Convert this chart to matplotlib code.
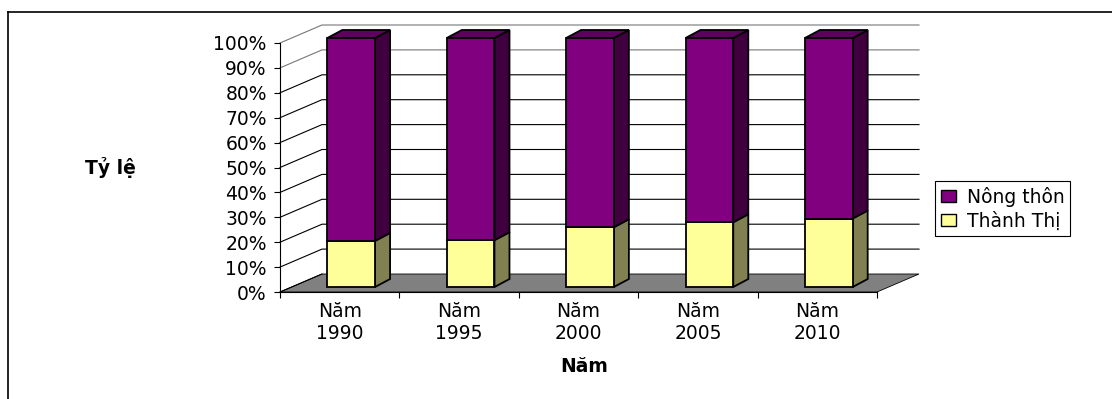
import numpy as np
import matplotlib.pyplot as plt
from matplotlib.patches import Polygon, Patch
from matplotlib.lines import Line2D
from matplotlib.transforms import ScaledTranslation, IdentityTransform

# du lieu doc tu bieu do (%)
nam = ['Năm\n1990', 'Năm\n1995', 'Năm\n2000', 'Năm\n2005', 'Năm\n2010']
thanh_thi = [18.5, 18.8, 24.0, 26.0, 27.5]
nong_thon = [81.5, 81.2, 76.0, 74.0, 72.5]

plt.rcParams['font.family'] = ['DejaVu Sans']
fs = 13.5

fig = plt.figure(figsize=(11.12, 3.99), dpi=100)
# mat phang truoc cua vung ve
ax = fig.add_axes([280 / 1112, (399 - 292) / 399, 597 / 1112, 249 / 399])
ax.set_xlim(-0.5, 4.5)
ax.set_ylim(0, 100)
ax.set_autoscale_on(False)
ax.patch.set_visible(False)
for s in ['top', 'right']:
    ax.spines[s].set_visible(False)
ax.spines['left'].set_linewidth(0.8)
ax.spines['bottom'].set_linewidth(0.8)

x = np.arange(len(nam))
w = 0.4

# do sau 3D (pixel)
wall = np.array([42, 18])
off = np.array([11.5, 5])
depth = np.array([15, 8])


def px(xx, yy):
    return ax.transData.transform((xx, yy))


ident = IdentityTransform()

# nen (san) mau xam
san = Polygon([px(-0.5, 0), px(4.5, 0), px(4.5, 0) + wall, px(-0.5, 0) + wall],
              closed=True, transform=ident, facecolor='#808080', edgecolor='black',
              linewidth=0.6, zorder=1, clip_on=False)
ax.add_patch(san)

# duong luoi tuong ben va tuong sau
for v in range(10, 101, 10):
    a = px(-0.5, v)
    b = a + wall
    c = px(4.5, v) + wall
    col = '#777777' if v >= 90 else 'black'
    ax.add_line(Line2D([a[0], b[0], c[0]], [a[1], b[1], c[1]], transform=ident,
                       color=col, linewidth=0.8, zorder=1.5, clip_on=False))
a = px(-0.5, 0)
ax.add_line(Line2D([a[0], a[0] + wall[0]], [a[1], a[1] + wall[1]], transform=ident,
                   color='black', linewidth=0.8, zorder=1.5, clip_on=False))

# mat truoc cua cot
shift = ax.transData + ScaledTranslation(off[0] / 100, off[1] / 100, fig.dpi_scale_trans)
ax.bar(x, thanh_thi, width=w, color='#FFFF99', edgecolor='black', linewidth=1.3,
       transform=shift, zorder=4, clip_on=False)
ax.bar(x, nong_thon, width=w, bottom=thanh_thi, color='#800080', edgecolor='black',
       linewidth=1.3, transform=shift, zorder=4, clip_on=False)

# mat ben va mat tren
for i in range(len(x)):
    xr = x[i] + w / 2
    xl = x[i] - w / 2
    segs = [(0, thanh_thi[i], '#808050'),
            (thanh_thi[i], thanh_thi[i] + nong_thon[i], '#400040')]
    for y0, y1, col in segs:
        p0 = px(xr, y0) + off
        p1 = px(xr, y1) + off
        ax.add_patch(Polygon([p0, p1, p1 + depth, p0 + depth], closed=True, transform=ident,
                             facecolor=col, edgecolor='black', linewidth=1.3,
                             zorder=3, clip_on=False))
    top = thanh_thi[i] + nong_thon[i]
    q0 = px(xl, top) + off
    q1 = px(xr, top) + off
    ax.add_patch(Polygon([q0, q1, q1 + depth, q0 + depth], closed=True, transform=ident,
                         facecolor='#5E005E', edgecolor='black', linewidth=1.3,
                         zorder=3, clip_on=False))

# truc
ax.set_yticks(range(0, 101, 10))
ax.set_yticklabels([f'{v}%' for v in range(0, 101, 10)], fontsize=fs)
ax.tick_params(axis='y', length=4, width=0.8, pad=5.5)
ax.set_xticks(np.arange(-0.5, 5, 1))
ax.set_xticklabels([])
ax.tick_params(axis='x', which='major', length=4, width=0.8)
ax.set_xticks(x, minor=True)
ax.set_xticklabels(nam, minor=True, fontsize=fs, linespacing=1.2)
ax.tick_params(axis='x', which='minor', length=0, pad=7)

fig.text(110 / 1112, 1 - 167 / 399, 'Tỷ lệ', fontsize=fs, fontweight='bold',
         ha='center', va='center')
fig.text(584 / 1112, 1 - 367 / 399, 'Năm', fontsize=fs, fontweight='bold',
         ha='center', va='center')

# chu giai
handles = [Patch(facecolor='#800080', edgecolor='black', label='Nông thôn'),
           Patch(facecolor='#FFFF99', edgecolor='black', label='Thành Thị')]
leg = fig.legend(handles=handles, loc='upper left', bbox_to_anchor=(935 / 1112, 1 - 181 / 399),
                 fancybox=False, edgecolor='black', framealpha=1, fontsize=fs,
                 handlelength=0.8, handleheight=0.6, handletextpad=0.6,
                 borderaxespad=0, borderpad=0.3, labelspacing=0.25)
leg.get_frame().set_linewidth(0.8)

# khung ngoai
fig.add_artist(Line2D([8 / 1112, 1], [1 - 12 / 399, 1 - 12 / 399], transform=fig.transFigure,
                      color='black', linewidth=1.2))
fig.add_artist(Line2D([8 / 1112, 8 / 1112], [0, 1 - 12 / 399], transform=fig.transFigure,
                      color='black', linewidth=1.2))

fig.savefig('out.png', dpi=100)
